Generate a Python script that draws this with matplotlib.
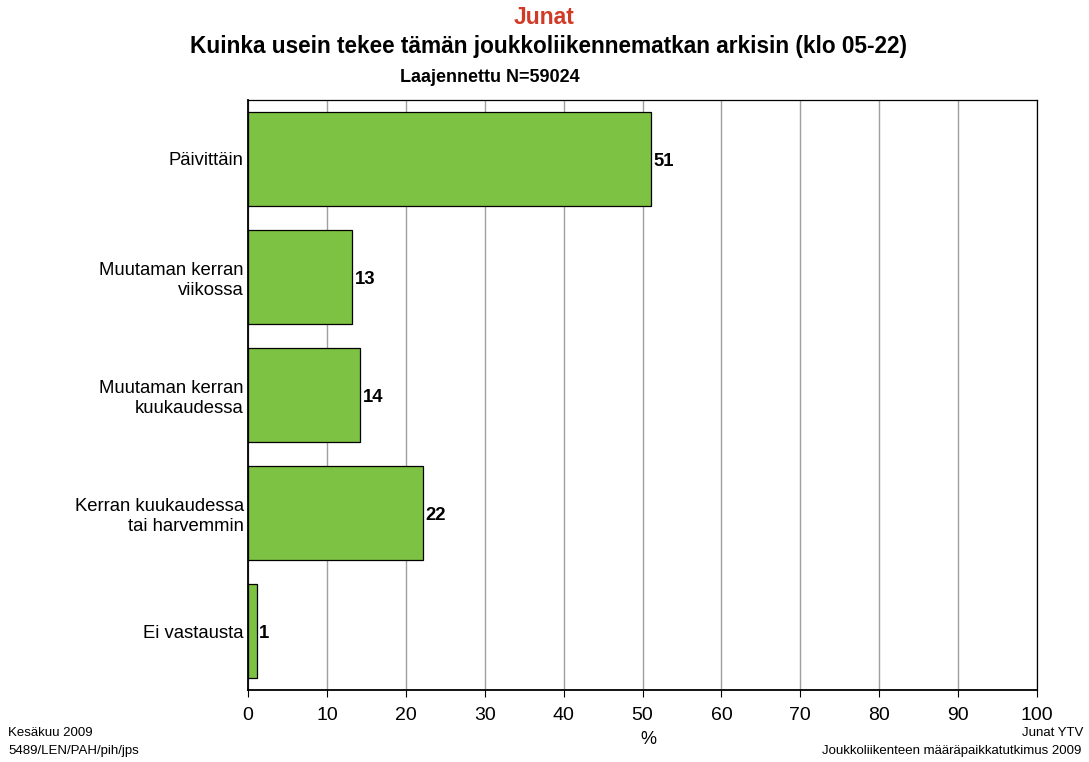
import matplotlib
matplotlib.use("Agg")
import matplotlib.pyplot as plt

plt.rcParams['font.family'] = ['Liberation Sans', 'DejaVu Sans']

categories = ["Päivittäin", "Muutaman kerran\nviikossa", "Muutaman kerran\nkuukaudessa",
              "Kerran kuukaudessa\ntai harvemmin", "Ei vastausta"]
values = [51.1, 13.2, 14.2, 22.2, 1.1]
labels = ["51", "13", "14", "22", "1"]
xticks = list(range(0, 101, 10))

fig = plt.figure(figsize=(10.89, 7.62), dpi=100)
ax = fig.add_axes([248/1089, 1-690/762, (1037-248)/1089, (690-100)/762])

y = list(range(len(categories)))
ax.barh(y, values, height=0.79, color="#7DC242", edgecolor="black", linewidth=0.9, zorder=3)
for yi, v, lab in zip(y, values, labels):
    ax.text(v + 0.3, yi + 0.02, lab, va="center", ha="left", fontsize=13.3, fontweight="bold", zorder=4)

ax.set_xlim(0, 100)
ax.set_ylim(len(categories) - 0.5, -0.5)
ax.set_yticks(y)
ax.set_yticklabels(categories, fontsize=13.3, multialignment="right")
for t in ax.get_yticklabels():
    t.set_y(t.get_position()[1])
ax.set_xticks(xticks)
ax.set_xticklabels([str(t) for t in xticks], fontsize=14)
ax.tick_params(axis="y", length=0, pad=3)
ax.tick_params(axis="x", length=5, direction="out", pad=7)
ax.xaxis.grid(True, color="#a0a0a0", linewidth=1, zorder=0)
ax.set_axisbelow(True)
for s in ["left", "bottom"]:
    ax.spines[s].set_linewidth(1.3)
for s in ["top", "right"]:
    ax.spines[s].set_linewidth(0.9)

fig.text(648/1089, 1-740/762, "%", ha="center", va="center", fontsize=13)

fig.text(0.5, 1-17/762, "Junat", ha="center", va="center", fontsize=16.5, fontweight="bold", color="#D03A26")
fig.text(549/1089, 1-47/762, "Kuinka usein tekee tämän joukkoliikennematkan arkisin (klo 05-22)",
         ha="center", va="center", fontsize=16.3, fontweight="bold")
fig.text(490/1089, 1-77/762, "Laajennettu N=59024", ha="center", va="center", fontsize=13, fontweight="bold")

fig.text(8/1089, 1-733/762, "Kesäkuu 2009", ha="left", va="center", fontsize=9.5)
fig.text(8/1089, 1-751/762, "5489/LEN/PAH/pih/jps", ha="left", va="center", fontsize=9.5)
fig.text(1083/1089, 1-733/762, "Junat YTV", ha="right", va="center", fontsize=9.5)
fig.text(1081/1089, 1-751/762, "Joukkoliikenteen määräpaikkatutkimus 2009", ha="right", va="center", fontsize=9.5)

fig.savefig("out.png", dpi=100)
